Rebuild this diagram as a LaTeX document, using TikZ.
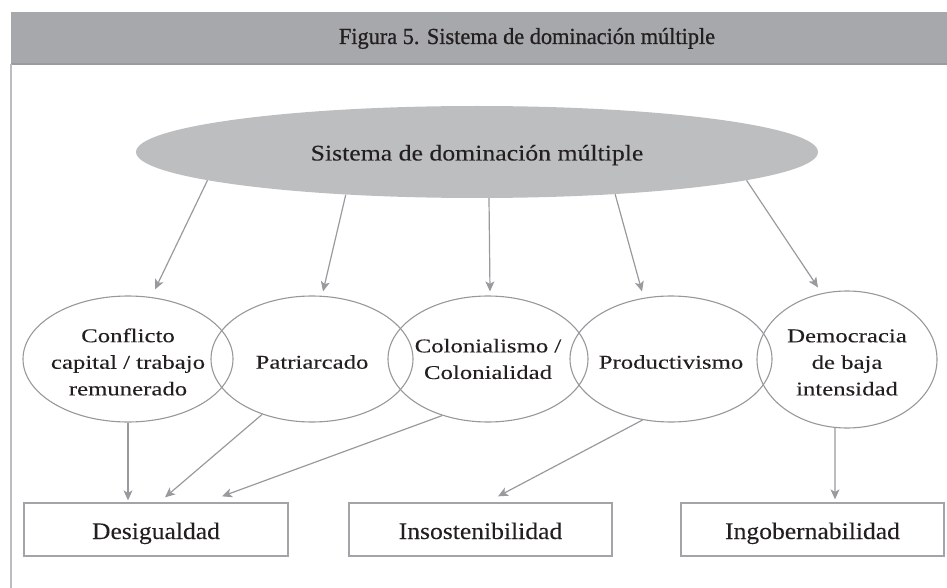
\documentclass[tikz,border=0pt]{standalone}
\usepackage{fontspec}
\setmainfont{Liberation Serif}
\newfontfamily\headfont[FakeStretch=0.97,FakeBold=0.8]{Liberation Serif}
\newfontfamily\topfont[FakeStretch=1.15,FakeBold=0.12]{Liberation Serif}
\newfontfamily\boxfont[FakeStretch=1.08,FakeBold=0.12]{Liberation Serif}
\newfontfamily\widefont[FakeStretch=1.27,FakeBold=0.12]{Liberation Serif}
\usetikzlibrary{arrows.meta,shapes.geometric,calc}
\definecolor{band}{HTML}{A7A8AB}
\definecolor{divider}{HTML}{9A9B9E}
\definecolor{border}{HTML}{BCBDC0}
\definecolor{ellfill}{HTML}{BDBEC0}
\definecolor{linegray}{HTML}{97989B}
\definecolor{arrowgray}{HTML}{999A9D}
\definecolor{boxgray}{HTML}{A3A4A7}
\definecolor{ink}{HTML}{231F20}
\begin{document}
\begin{tikzpicture}[x=1pt,y=-1pt,
  headtxt/.style={font=\headfont\fontsize{23}{27}\selectfont, text=ink, inner sep=0pt},
  topell/.style={ellipse, fill=ellfill, minimum width=682pt, minimum height=92pt, inner sep=0pt,
    font=\topfont\fontsize{22.4}{27}\selectfont, text=ink, text height=20pt, text depth=3pt},
  midell/.style={ellipse, draw=linegray, line width=1.1pt, inner sep=0pt},
  lbl/.style={align=center, font=\widefont\fontsize{19.5}{26.6}\selectfont, text=ink, inner sep=0pt, yshift=-3pt},
  outbox/.style={rectangle, draw=boxgray, line width=1.3pt, minimum height=53pt, inner sep=0pt,
    font=\boxfont\fontsize{23.7}{28}\selectfont, text=ink, text height=22pt, text depth=3pt},
  arr/.style={draw=arrowgray, line width=1.2pt, -{Stealth[length=10pt,width=9pt,inset=2.5pt]}}]
\useasboundingbox (0,0) rectangle (947,588);
% header band and frame
\fill[band] (11,12) rectangle (947,64);
\draw[divider, line width=1.2pt] (11,64) -- (947,64);
\draw[border, line width=1.5pt] (11,64) -- (11,588);
\node[headtxt, anchor=base] (head) at (527,44) {Figura 5. Sistema de dominación múltiple};
% top ellipse
\node[topell] (top) at (477,152) {Sistema de dominación múltiple};
% middle ellipses
\node[midell, minimum width=210pt, minimum height=126pt,
  label={[lbl]center:{Conflicto\\capital / trabajo\\remunerado}}] (e1) at (128,359) {};
\node[midell, minimum width=202pt, minimum height=126pt,
  label={[lbl]center:{Patriarcado}}] (e2) at (312,359) {};
\node[midell, minimum width=200pt, minimum height=126pt,
  label={[lbl, yshift=3pt]center:{Colonialismo /\\Colonialidad}}] (e3) at (488,359) {};
\node[midell, minimum width=202pt, minimum height=126pt,
  label={[lbl]center:{Productivismo}}] (e4) at (671,359) {};
\node[midell, minimum width=180pt, minimum height=137pt,
  label={[lbl]center:{Democracia\\de baja\\intensidad}}] (e5) at (847,359.5) {};
% boxes
\node[outbox, minimum width=264pt] (d1) at (156,529.5) {Desigualdad};
\node[outbox, minimum width=263pt] (d2) at (480.5,529.5) {Insostenibilidad};
\node[outbox, minimum width=263pt] (d3) at (812.5,529.5) {Ingobernabilidad};
% arrows from top
\draw[arr] (top.186.5) -- ([xshift=27pt,yshift=6pt]e1.north);
\draw[arr] (top.198.3) -- ([xshift=11pt,yshift=4pt]e2.north);
\draw[arr] ([xshift=12pt]top.south) -- ([xshift=2pt,yshift=4pt]e3.north);
\draw[arr] (top.343.4) -- ([xshift=-29pt,yshift=4pt]e4.north);
\draw[arr] (top.354.4) -- ([xshift=-29pt,yshift=3pt]e5.north);
% arrows to boxes
\draw[arr] (e1.south) -- ([xshift=-28pt,yshift=2pt]d1.north);
\draw[arr] (e2.228.2) -- ([xshift=9pt,yshift=5pt]d1.north);
\draw[arr] (e3.231.6) -- ([xshift=66pt,yshift=6pt]d1.north);
\draw[arr] (e4.245.3) -- ([xshift=17.5pt,yshift=6pt]d2.north);
\draw[arr] (e5.260) -- ([xshift=22.5pt,yshift=3pt]d3.north);
\end{tikzpicture}
\end{document}
